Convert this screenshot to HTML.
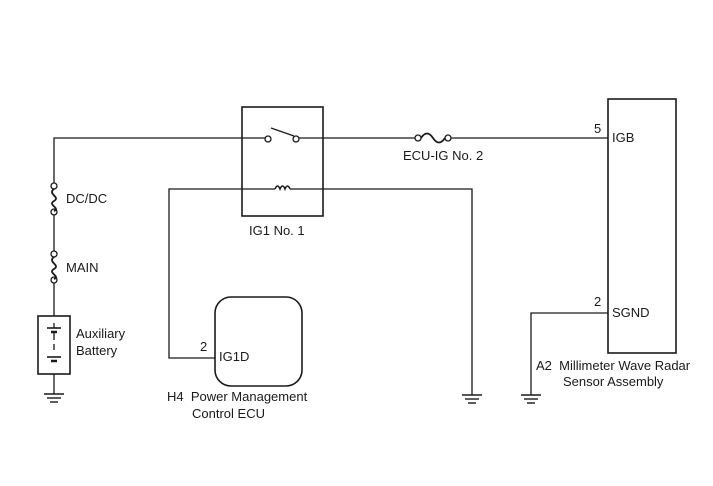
<!DOCTYPE html>
<html><head><style>
body{margin:0;background:#fff;}
svg text{font-family:"Liberation Sans",Arial,sans-serif;font-size:13px;fill:#1a1a1a;}
</style></head><body>
<svg width="713" height="481" viewBox="0 0 713 481" xmlns="http://www.w3.org/2000/svg">
<g stroke="#1a1a1a" stroke-width="1.3" fill="none">
<polyline points="54,185 54,138 265,138"/>
<line x1="299" y1="138" x2="415" y2="138"/>
<line x1="451" y1="138" x2="608" y2="138"/>
<rect x="242" y="107" width="81" height="109" stroke-width="1.6"/>
<circle cx="268" cy="139" r="3" fill="#fff"/>
<circle cx="296" cy="139" r="3" fill="#fff"/>
<line x1="271" y1="128" x2="294" y2="136"/>
<polyline points="472,395 472,189 290,189"/>
<polyline points="275,189 169,189 169,358 215,358"/>
<path d="M275,189 q2.5,-6 5,0 q2.5,-6 5,0 q2.5,-6 5,0" stroke-width="1.6"/>
<circle cx="54" cy="186" r="3" fill="#fff"/>
<circle cx="54" cy="212" r="3" fill="#fff"/>
<path d="M54,189 c-7,5 7,8 0,12 c-7,4 7,7 0,10" stroke-width="1.8"/>
<line x1="54" y1="215" x2="54" y2="251"/>
<circle cx="54" cy="254" r="3" fill="#fff"/>
<circle cx="54" cy="280" r="3" fill="#fff"/>
<path d="M54,257 c-7,5 7,8 0,12 c-7,4 7,7 0,10" stroke-width="1.8"/>
<line x1="54" y1="283" x2="54" y2="394"/>
<rect x="38" y="316" width="32" height="58" fill="#fff" stroke-width="1.6"/>
<line x1="47" y1="328" x2="61" y2="328" stroke-width="1.6"/>
<line x1="51" y1="332" x2="57" y2="332" stroke-width="2.5"/>
<line x1="54" y1="332" x2="54" y2="340"/>
<line x1="54" y1="344" x2="54" y2="350"/>
<line x1="47" y1="357" x2="61" y2="357" stroke-width="1.6"/>
<line x1="51" y1="361" x2="57" y2="361" stroke-width="2.5"/>
<line x1="54" y1="323" x2="54" y2="328"/>
<g stroke-width="1.4">
<line x1="44" y1="394" x2="64" y2="394"/><line x1="47" y1="398" x2="61" y2="398"/><line x1="50" y1="402" x2="58" y2="402"/>
<line x1="462" y1="395" x2="482" y2="395"/><line x1="465" y1="399" x2="479" y2="399"/><line x1="468" y1="403" x2="476" y2="403"/>
<line x1="521" y1="395" x2="541" y2="395"/><line x1="524" y1="399" x2="538" y2="399"/><line x1="527" y1="403" x2="535" y2="403"/>
</g>
<rect x="215" y="297" width="87" height="89" rx="16" stroke-width="1.6"/>
<circle cx="418" cy="138" r="3" fill="#fff"/>
<circle cx="448" cy="138" r="3" fill="#fff"/>
<path d="M421,138 c4,-6 8,-6 12,0 c4,6 8,6 12,0" stroke-width="1.8"/>
<rect x="608" y="99" width="68" height="254" stroke-width="1.6"/>
<polyline points="608,313 531,313 531,395"/>
</g>
<text x="66" y="203">DC/DC</text>
<text x="66" y="272">MAIN</text>
<text x="76" y="338">Auxiliary</text>
<text x="76" y="355">Battery</text>
<text x="249" y="235">IG1 No. 1</text>
<text x="403" y="160">ECU-IG No. 2</text>
<text x="200" y="351">2</text>
<text x="219" y="361">IG1D</text>
<text x="167" y="401">H4&#160; Power Management</text>
<text x="192" y="418">Control ECU</text>
<text x="594" y="133">5</text>
<text x="612" y="142">IGB</text>
<text x="594" y="306">2</text>
<text x="612" y="317">SGND</text>
<text x="536" y="370">A2&#160; Millimeter Wave Radar</text>
<text x="563" y="386">Sensor Assembly</text>
</svg>
</body></html>
